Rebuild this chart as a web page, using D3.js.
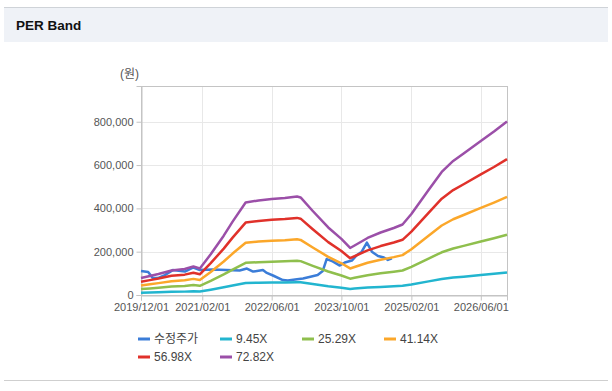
<!DOCTYPE html>
<html>
<head>
<meta charset="utf-8">
<script src="https://cdn.jsdelivr.net/npm/d3@7"></script>
<style>
  body { margin: 0; background: #fff; font-family: "Liberation Sans", "Noto Sans CJK KR", sans-serif; }
  .title { font-size: 13.5px; font-weight: bold; fill: #111; }
  .axis text { font-size: 11px; fill: #555; }
  .legend text { font-size: 12px; fill: #444; }
</style>
</head>
<body>
<div id="root"></div>
<script>
// band dates + EPS (won)
const epsDates = [
  '2019/12/01', '2020/02/01', '2020/04/01', '2020/07/01', '2020/10/01', '2020/12/01',
  '2021/01/15', '2021/04/01', '2021/07/01', '2021/09/01', '2021/12/01', '2022/03/01',
  '2022/06/01', '2022/09/01', '2022/11/25', '2022/12/20', '2023/03/15', '2023/07/01',
  '2023/10/01', '2023/12/01', '2024/01/01', '2024/04/01', '2024/07/01', '2024/10/01',
  '2024/12/01', '2025/02/01', '2025/06/01', '2025/09/01', '2025/11/20', '2026/02/01',
  '2026/06/01', '2026/09/01', '2026/12/01'
];
const epsValues = [
  1078, 1205, 1332, 1554, 1649, 1808,
  1681, 2580, 3760, 4650, 5868, 5994,
  6089, 6152, 6248, 6185, 5327, 4282,
  3560, 2981, 3140, 3616, 3964, 4250,
  4472, 5138, 6660, 7802, 8500, 8975,
  9768, 10371, 11005
];

const multiples = [9.45, 25.29, 41.14, 56.98, 72.82];
const bandColors = ['#22b5cf', '#8fbf4d', '#fba72a', '#e0312a', '#9b4fa8'];

// adjusted price (수정주가)
const priceDates = [
  '2019/12/01', '2020/01/20', '2020/02/22', '2020/03/28', '2020/05/15', '2020/07/10',
  '2020/10/03', '2020/12/01', '2021/01/15', '2021/04/15', '2021/10/20', '2021/12/10',
  '2022/01/22', '2022/04/01', '2022/04/28', '2022/06/10', '2022/08/18', '2022/09/22',
  '2022/11/25', '2023/01/06', '2023/03/06', '2023/04/18', '2023/05/24', '2023/06/20',
  '2023/08/01', '2023/09/20', '2023/10/25', '2023/12/13', '2024/01/18', '2024/02/20',
  '2024/03/27', '2024/05/01', '2024/06/13', '2024/07/24', '2024/08/21', '2024/09/18'
];
const priceValues = [
  111000, 106000, 78000, 78000, 92000, 115000,
  108000, 127000, 115000, 118000, 113000, 122000,
  108000, 115000, 102000, 90000, 69000, 67000,
  73000, 76000, 85000, 92000, 111000, 166000,
  155000, 136000, 150000, 159000, 185000, 200000,
  242000, 200000, 180000, 173000, 162000, 169000
];
const priceColor = '#3b7dd8';

const xTicks = ['2019/12/01', '2021/02/01', '2022/06/01', '2023/10/01', '2025/02/01', '2026/06/01'];
const yTicks = [0, 200000, 400000, 600000, 800000];
const legendLabels = ['수정주가', '9.45X', '25.29X', '41.14X', '56.98X', '72.82X'];

const parse = d3.timeParse('%Y/%m/%d');
const width = 612;
const height = 391;
const plot = { left: 141, right: 507, top: 86, bottom: 295 };

const svg = d3.select('#root').append('svg')
  .attr('width', width)
  .attr('height', height);

// header bar
svg.append('rect')
  .attr('x', 4).attr('y', 7).attr('width', 604).attr('height', 35)
  .attr('fill', '#eff2f7');
svg.append('line')
  .attr('x1', 4).attr('x2', 608).attr('y1', 7.5).attr('y2', 7.5)
  .attr('stroke', '#cfd3d8');
svg.append('text')
  .attr('class', 'title')
  .attr('x', 16).attr('y', 30)
  .text('PER Band');
svg.append('line')
  .attr('x1', 4).attr('x2', 608).attr('y1', 380.5).attr('y2', 380.5)
  .attr('stroke', '#cfcfcf');

const xScale = d3.scaleTime()
  .domain([parse('2019/12/01'), parse('2026/12/01')])
  .range([plot.left, plot.right]);

const yScale = d3.scaleLinear()
  .domain([0, 965000])
  .range([plot.bottom, plot.top]);

// grid
svg.append('g')
  .selectAll('line')
  .data(yTicks)
  .enter()
  .append('line')
  .attr('x1', plot.left).attr('x2', plot.right)
  .attr('y1', d => Math.round(yScale(d)) + 0.5)
  .attr('y2', d => Math.round(yScale(d)) + 0.5)
  .attr('stroke', '#e8e8e8');

svg.append('g')
  .selectAll('line')
  .data(xTicks)
  .enter()
  .append('line')
  .attr('x1', d => Math.round(xScale(parse(d))) + 0.5)
  .attr('x2', d => Math.round(xScale(parse(d))) + 0.5)
  .attr('y1', plot.top).attr('y2', plot.bottom)
  .attr('stroke', '#e8e8e8');

// frame
svg.append('rect')
  .attr('x', plot.left + 0.5).attr('y', plot.top + 0.5)
  .attr('width', plot.right - plot.left).attr('height', plot.bottom - plot.top)
  .attr('fill', 'none')
  .attr('stroke', '#c4c4c4');

// axes
const xAxis = svg.append('g')
  .attr('class', 'axis')
  .attr('transform', `translate(0, ${plot.bottom + 0.5})`)
  .call(d3.axisBottom(xScale)
    .tickValues(xTicks.map(parse))
    .tickFormat(d3.timeFormat('%Y/%m/%d'))
    .tickSize(5)
    .tickPadding(3));

const yAxis = svg.append('g')
  .attr('class', 'axis')
  .attr('transform', `translate(${plot.left + 0.5}, 0)`)
  .call(d3.axisLeft(yScale)
    .tickValues(yTicks)
    .tickFormat(d3.format(','))
    .tickSize(5)
    .tickPadding(3));

[xAxis, yAxis].forEach(axis => {
  axis.select('.domain').attr('stroke', '#c4c4c4');
  axis.selectAll('.tick line').attr('stroke', '#c4c4c4');
  axis.selectAll('text').attr('font-family', null);
});

svg.append('text')
  .attr('x', 120).attr('y', 78)
  .attr('font-size', 12)
  .attr('fill', '#555')
  .text('(원)');

// lines
const line = d3.line()
  .x(d => xScale(d.date))
  .y(d => yScale(d.value));

const priceData = priceDates.map((d, i) => ({ date: parse(d), value: priceValues[i] }));

svg.append('path')
  .datum(priceData)
  .attr('fill', 'none')
  .attr('stroke', priceColor)
  .attr('stroke-width', 2.5)
  .attr('stroke-linejoin', 'round')
  .attr('d', line);

multiples.forEach((m, k) => {
  const bandData = epsDates.map((d, i) => ({ date: parse(d), value: epsValues[i] * m }));
  svg.append('path')
    .datum(bandData)
    .attr('fill', 'none')
    .attr('stroke', bandColors[k])
    .attr('stroke-width', 2.5)
    .attr('stroke-linejoin', 'round')
    .attr('d', line);
});

// legend
const legendColors = [priceColor].concat(bandColors);
const legend = svg.append('g').attr('class', 'legend');

const items = legend.selectAll('g')
  .data(legendLabels)
  .enter()
  .append('g')
  .attr('transform', (d, i) => `translate(${138 + (i % 4) * 82}, ${339 + Math.floor(i / 4) * 18})`);

items.append('line')
  .attr('x1', 0).attr('x2', 12)
  .attr('stroke', (d, i) => legendColors[i])
  .attr('stroke-width', 3);

items.append('text')
  .attr('x', 16)
  .attr('dy', '0.35em')
  .text(d => d);
</script>
</body>
</html>
